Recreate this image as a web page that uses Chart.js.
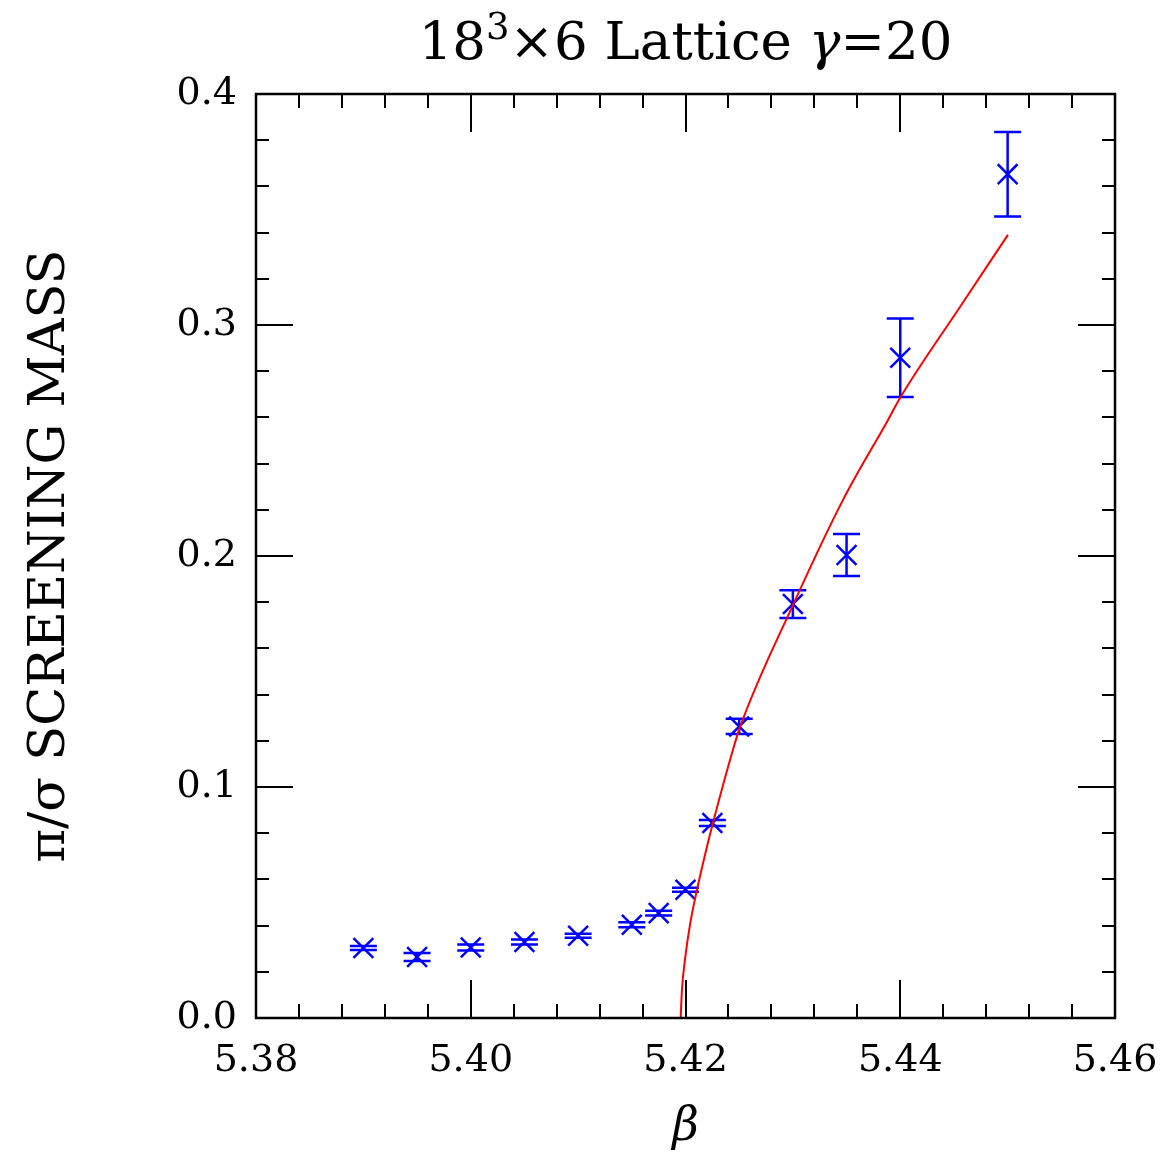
<!DOCTYPE html>
<html>
<head>
<meta charset="utf-8">
<script src="https://cdn.jsdelivr.net/npm/chart.js@4.4.0/dist/chart.umd.min.js"></script>
<style>
  html, body { margin: 0; padding: 0; background: #fff; }
</style>
</head>
<body>
<canvas id="chart" width="1166" height="1156"></canvas>
<script>
// measured points (beta, pi/sigma screening mass, error)
const beta = [5.390, 5.395, 5.400, 5.405, 5.410, 5.415, 5.4175, 5.420, 5.4225, 5.425, 5.430, 5.435, 5.440, 5.450];
const mass = [0.0303, 0.0264, 0.0305, 0.0329, 0.0356, 0.0404, 0.0454, 0.0555, 0.0844, 0.1262, 0.1792, 0.2004, 0.2858, 0.3653];
const massErr = [0.0009, 0.0017, 0.0013, 0.0011, 0.0009, 0.0011, 0.0010, 0.0009, 0.0013, 0.0033, 0.0060, 0.0091, 0.0170, 0.0183];

// red fit curve
const fitBeta = [5.41955, 5.41967, 5.41995, 5.42042, 5.42107, 5.42182, 5.42256, 5.42442, 5.42508, 5.43010, 5.43466, 5.43886, 5.43998, 5.44556, 5.45003];
const fitMass = [0.0, 0.0122, 0.0252, 0.0404, 0.0555, 0.0707, 0.0845, 0.1161, 0.1260, 0.1797, 0.2242, 0.2589, 0.2684, 0.3078, 0.3390];

const xTitle = 'β';
const yTitle = 'π/σ SCREENING MASS';

const serif = "'DejaVu Serif', serif";

// title with a real superscript and italic gamma
const titleParts = [
  { t: '18', font: '53px ' + serif, dy: 0 },
  { t: '3', font: '37px ' + serif, dy: -20 },
  { t: '×6 Lattice ', font: '53px ' + serif, dy: 0 },
  { t: 'γ', font: 'italic 53px ' + serif, dy: 0 },
  { t: '=20', font: '53px ' + serif, dy: 0 }
];

const titleDraw = {
  id: 'titleDraw',
  afterDraw(chart) {
    const ctx = chart.ctx;
    const a = chart.chartArea;
    ctx.save();
    ctx.fillStyle = '#000';
    ctx.textBaseline = 'alphabetic';
    let w = 0;
    titleParts.forEach(p => { ctx.font = p.font; w += ctx.measureText(p.t).width; });
    let x = (a.left + a.right) / 2 - w / 2;
    titleParts.forEach(p => {
      ctx.font = p.font;
      ctx.fillText(p.t, x, 59 + p.dy);
      x += ctx.measureText(p.t).width;
    });
    ctx.restore();
  }
};

// error bars go under the markers
const errorBars = {
  id: 'errorBars',
  beforeDatasetsDraw(chart) {
    const ctx = chart.ctx;
    const xs = chart.scales.x, ys = chart.scales.y;
    ctx.save();
    ctx.strokeStyle = '#0000ff';
    ctx.lineWidth = 2.5;
    beta.forEach((b, i) => {
      const px = xs.getPixelForValue(b);
      const top = ys.getPixelForValue(mass[i] + massErr[i]);
      const bot = ys.getPixelForValue(mass[i] - massErr[i]);
      ctx.beginPath();
      ctx.moveTo(px, top); ctx.lineTo(px, bot);
      ctx.moveTo(px - 13.5, top); ctx.lineTo(px + 13.5, top);
      ctx.moveTo(px - 13.5, bot); ctx.lineTo(px + 13.5, bot);
      ctx.stroke();
    });
    ctx.restore();
  }
};

// box with inward ticks on all four sides
const frame = {
  id: 'frame',
  afterDraw(chart) {
    const ctx = chart.ctx;
    const a = chart.chartArea;
    const xs = chart.scales.x, ys = chart.scales.y;
    ctx.save();
    ctx.strokeStyle = '#000';
    ctx.lineWidth = 2;
    ctx.beginPath();
    for (let i = 0; i <= 20; i++) {
      const px = Math.round(xs.getPixelForValue(5.38 + i * 0.004));
      const len = i % 5 === 0 ? 38 : 14;
      ctx.moveTo(px, a.bottom); ctx.lineTo(px, a.bottom - len);
      ctx.moveTo(px, a.top); ctx.lineTo(px, a.top + len);
    }
    for (let i = 0; i <= 20; i++) {
      const py = Math.round(ys.getPixelForValue(i * 0.02));
      const len = i % 5 === 0 ? 37 : 13;
      ctx.moveTo(a.left, py); ctx.lineTo(a.left + len, py);
      ctx.moveTo(a.right, py); ctx.lineTo(a.right - len, py);
    }
    ctx.stroke();
    ctx.lineWidth = 2.5;
    ctx.strokeRect(a.left, a.top, a.right - a.left, a.bottom - a.top);
    ctx.restore();
  }
};

const ctx = document.getElementById('chart');
new Chart(ctx, {
  type: 'scatter',
  data: {
    datasets: [{
      label: 'fit',
      data: fitBeta.map((b, i) => ({ x: b, y: fitMass[i] })),
      showLine: true,
      borderColor: '#ff0000',
      borderWidth: 2,
      pointRadius: 0,
      cubicInterpolationMode: 'monotone',
      fill: false
    }, {
      label: 'mass',
      data: beta.map((b, i) => ({ x: b, y: mass[i] })),
      showLine: false,
      pointStyle: 'crossRot',
      pointRadius: 14,
      borderColor: '#0000ff',
      backgroundColor: '#0000ff',
      borderWidth: 2.5
    }]
  },
  options: {
    responsive: false,
    animation: false,
    devicePixelRatio: 1,
    layout: {
      autoPadding: false,
      padding: { left: 0, right: 51, top: 94, bottom: 0 }
    },
    plugins: {
      legend: { display: false },
      tooltip: { enabled: false },
      title: { display: false }
    },
    scales: {
      x: {
        type: 'linear',
        min: 5.38,
        max: 5.46,
        grid: { display: false, drawTicks: false },
        border: { display: false },
        ticks: {
          stepSize: 0.02,
          color: '#000',
          font: { family: serif, size: 38 },
          padding: 20,
          maxRotation: 0,
          autoSkip: false,
          callback: v => v.toFixed(2)
        },
        title: {
          display: true,
          text: xTitle,
          color: '#000',
          font: { family: serif, size: 46, style: 'italic', lineHeight: 1.2 },
          padding: { top: 0, bottom: 0 }
        },
        afterFit(s) { s.height = 138; s.paddingLeft = 0; s.paddingRight = 0; }
      },
      y: {
        type: 'linear',
        min: 0,
        max: 0.4,
        grid: { display: false, drawTicks: false },
        border: { display: false },
        ticks: {
          stepSize: 0.1,
          color: '#000',
          font: { family: serif, size: 38 },
          padding: 19,
          callback: v => v.toFixed(1)
        },
        title: {
          display: true,
          text: yTitle,
          color: '#000',
          font: { family: serif, size: 51, lineHeight: 1.2 },
          padding: { top: 20, bottom: 0 }
        },
        afterFit(s) { s.width = 256; s.paddingTop = 0; s.paddingBottom = 0; }
      }
    }
  },
  plugins: [errorBars, frame, titleDraw]
});
</script>
</body>
</html>
